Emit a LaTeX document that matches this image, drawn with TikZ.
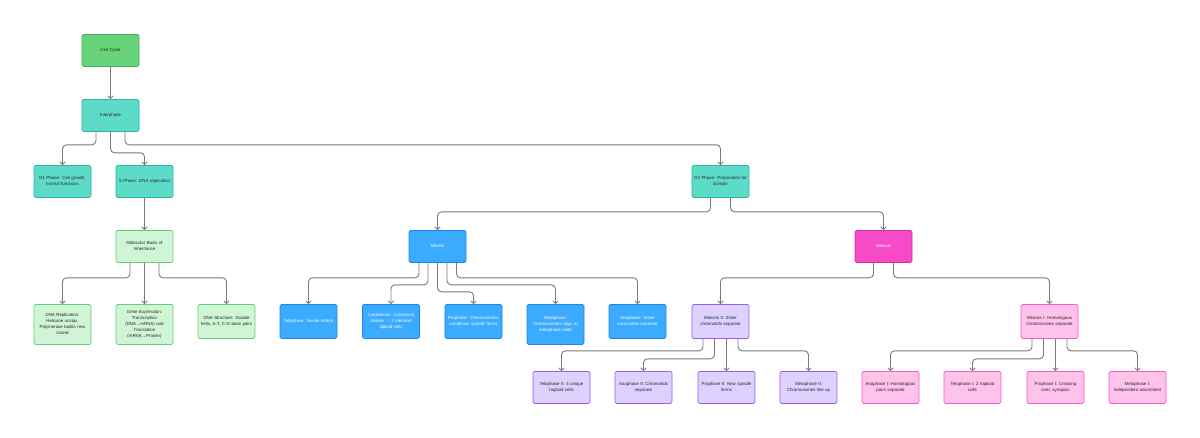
\documentclass[tikz,border=0pt]{standalone}
\usepackage{fontspec}
\setmainfont{Liberation Sans}
\usetikzlibrary{arrows.meta}

\definecolor{cyclefill}{HTML}{68D47A}
\definecolor{cycledraw}{HTML}{3DAF55}
\definecolor{tealfill}{HTML}{5DDBC9}
\definecolor{tealdraw}{HTML}{2FB5A3}
\definecolor{mintfill}{HTML}{CFF5D5}
\definecolor{mintdraw}{HTML}{62CF7A}
\definecolor{bluefill}{HTML}{3AABFF}
\definecolor{bluedraw}{HTML}{1D86E0}
\definecolor{magfill}{HTML}{F74AC6}
\definecolor{magdraw}{HTML}{D42BA6}
\definecolor{lavfill}{HTML}{DDD1FF}
\definecolor{lavdraw}{HTML}{9A5CF5}
\definecolor{pinkfill}{HTML}{FFC2EA}
\definecolor{pinkdraw}{HTML}{F45BC7}
\definecolor{linkgray}{HTML}{7A7A7A}

\begin{document}
\begin{tikzpicture}[x=1pt, y=-1pt,
  every node/.style={rectangle, draw, rounded corners=1.5pt, line width=0.8pt, anchor=north,
    minimum width=57pt, minimum height=32pt, text width=54pt, inner sep=0pt, align=center,
    text=black!85, font=\fontsize{4.4}{6}\selectfont},
  tall/.style={minimum height=40pt},
  mid/.style={minimum height=34pt},
  link/.style={draw=linkgray, line width=0.9pt, rounded corners=4pt,
    -{Straight Barb[length=2.6pt, width=5.5pt]}}]
  \useasboundingbox (0,0) rectangle (1200,437);

  \node (cycle) [fill=cyclefill, draw=cycledraw] at (110.5, 34) {Cell Cycle};
  \node (inter) [fill=tealfill, draw=tealdraw] at (110.5, 99) {Interphase};
  \node (g1) [fill=tealfill, draw=tealdraw] at (62.5, 165) {G1 Phase: Cell growth,\\normal functions};
  \node (sph) [fill=tealfill, draw=tealdraw] at (144.5, 165) {S Phase: DNA replication};
  \node (g2) [fill=tealfill, draw=tealdraw] at (720.5, 165) {G2 Phase: Preparation for\\division};
  \node (mol) [fill=mintfill, draw=mintdraw] at (144.5, 230) {Molecular Basis of\\Inheritance};
  \node (mit) [fill=bluefill, draw=bluedraw, text=white] at (437.5, 230) {Mitosis};
  \node (mei) [fill=magfill, draw=magdraw, text=white] at (883.5, 230) {Meiosis};

  \node (rep) [tall, fill=mintfill, draw=mintdraw] at (62.5, 304) {DNA Replication:\\Helicase unzips,\\Polymerase builds new\\strand};
  \node (gex) [tall, fill=mintfill, draw=mintdraw] at (144.5, 304) {Gene Expression:\\Transcription\\(DNA→mRNA) and\\Translation\\(mRNA→Protein)};
  \node (dstr) [mid, fill=mintfill, draw=mintdraw] at (226.5, 304) {DNA Structure: Double\\helix, A-T, C-G base pairs};

  \node (telo) [mid, fill=bluefill, draw=bluedraw, text=white] at (308.5, 304) {Telophase: Nuclei reform};
  \node (cyto) [mid, fill=bluefill, draw=bluedraw, text=white] at (391, 304) {Cytokinesis: Cytoplasm\\divides → 2 identical\\diploid cells};
  \node (pro) [mid, fill=bluefill, draw=bluedraw, text=white] at (473.5, 304) {Prophase: Chromosomes\\condense, spindle forms};
  \node (meta) [tall, fill=bluefill, draw=bluedraw, text=white] at (555.5, 304) {Metaphase:\\Chromosomes align at\\metaphase plate};
  \node (ana) [mid, fill=bluefill, draw=bluedraw, text=white] at (637.5, 304) {Anaphase: Sister\\chromatids separate};

  \node (m2) [mid, fill=lavfill, draw=lavdraw] at (720.5, 304) {Meiosis II: Sister\\chromatids separate};
  \node (m1) [mid, fill=pinkfill, draw=pinkdraw] at (1049.5, 304) {Meiosis I: Homologous\\chromosomes separate};

  \node (telo2) [fill=lavfill, draw=lavdraw] at (561.5, 371) {Telophase II: 4 unique\\haploid cells};
  \node (ana2) [fill=lavfill, draw=lavdraw] at (643.5, 371) {Anaphase II: Chromatids\\separate};
  \node (pro2) [fill=lavfill, draw=lavdraw] at (726.5, 371) {Prophase II: New spindle\\forms};
  \node (meta2) [fill=lavfill, draw=lavdraw] at (808.5, 371) {Metaphase II:\\Chromosomes line up};

  \node (ana1) [fill=pinkfill, draw=pinkdraw] at (890.5, 371) {Anaphase I: Homologous\\pairs separate};
  \node (telo1) [fill=pinkfill, draw=pinkdraw] at (972.5, 371) {Telophase I: 2 haploid\\cells};
  \node (pro1) [fill=pinkfill, draw=pinkdraw] at (1055.5, 371) {Prophase I: Crossing\\over, synapsis};
  \node (meta1) [fill=pinkfill, draw=pinkdraw] at (1137.5, 371) {Metaphase I:\\Independent assortment};

  \draw[link] (cycle) -- (inter);
  \draw[link] ([xshift=-14.5pt]inter.south) -- ++(0,13) -| (g1.north);
  \draw[link] (inter.south) -- ++(0,21) -| (sph.north);
  \draw[link] ([xshift=14.5pt]inter.south) -- ++(0,13) -| (g2.north);
  \draw[link] (sph) -- (mol);
  \draw[link] ([xshift=-14.5pt]mol.south) -- ++(0,15) -| (rep.north);
  \draw[link] (mol) -- (gex);
  \draw[link] ([xshift=14.5pt]mol.south) -- ++(0,15) -| (dstr.north);
  \draw[link] ([xshift=-10pt]g2.south) -- ++(0,14) -| (mit.north);
  \draw[link] ([xshift=10pt]g2.south) -- ++(0,14) -| (mei.north);
  \draw[link] ([xshift=-18.5pt]mit.south) -- ++(0,15) -| (telo.north);
  \draw[link] ([xshift=-9.5pt]mit.south) -- ++(0,22) -| (cyto.north);
  \draw[link] (mit.south) -- ++(0,29) -| (pro.north);
  \draw[link] ([xshift=9.5pt]mit.south) -- ++(0,22) -| (meta.north);
  \draw[link] ([xshift=19pt]mit.south) -- ++(0,15) -| (ana.north);
  \draw[link] ([xshift=-10pt]mei.south) -- ++(0,15) -| (m2.north);
  \draw[link] ([xshift=10pt]mei.south) -- ++(0,15) -| (m1.north);
  \draw[link] ([xshift=-17.5pt]m2.south) -- ++(0,12) -| (telo2.north);
  \draw[link] ([xshift=-6pt]m2.south) -- ++(0,20) -| (ana2.north);
  \draw[link] (pro2.north |- m2.south) -- (pro2.north);
  \draw[link] ([xshift=17.5pt]m2.south) -- ++(0,12) -| (meta2.north);
  \draw[link] ([xshift=-17.5pt]m1.south) -- ++(0,12) -| (ana1.north);
  \draw[link] ([xshift=-6pt]m1.south) -- ++(0,20) -| (telo1.north);
  \draw[link] (pro1.north |- m1.south) -- (pro1.north);
  \draw[link] ([xshift=17.5pt]m1.south) -- ++(0,12) -| (meta1.north);
\end{tikzpicture}
\end{document}
